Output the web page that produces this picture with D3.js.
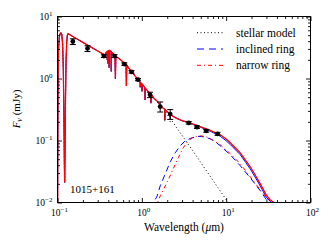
<!DOCTYPE html>
<html><head><meta charset="utf-8">
<script src="https://cdn.jsdelivr.net/npm/d3@7"></script>
<style>
html,body{margin:0;padding:0;background:#fff;}
text{font-family:"Liberation Serif","Times New Roman",serif;fill:#000;}
</style></head>
<body><svg id="c" width="330" height="250"></svg>
<script>
// ---------- data ----------
const xTickExps = [-1, 0, 1, 2];
const yTickExps = [-2, -1, 0, 1];
const legendLabels = ["stellar model", "inclined ring", "narrow ring"];
const starName = "1015+161";

// photometry (wavelength μm, flux mJy, error mJy)
const photWave = [0.152, 0.227, 0.355, 0.475, 0.62, 0.755, 0.90, 1.25, 1.65, 2.17, 3.6, 4.5, 5.8, 7.9];
const photFlux = [3.95, 3.05, 2.30, 2.30, 1.71, 1.28, 0.96, 0.546, 0.353, 0.267, 0.193, 0.164, 0.143, 0.128];
const photErr  = [0.42, 0.33, 0.12, 0.12, 0.08, 0.06, 0.04, 0.055, 0.065, 0.048, 0.009, 0.008, 0.007, 0.007];

// stellar model [wavelength, flux]
const stellarModel = [
 [0.1000,0.004],[0.1006,0.03],[0.1012,0.3],[0.1020,1.5],[0.1032,3.2],[0.1050,4.6],[0.1075,5.3],
 [0.1100,5.45],[0.1125,5.1],[0.1150,3.6],[0.1172,1.4],[0.1192,0.25],[0.1207,0.04],[0.1216,0.021],
 [0.1226,0.05],[0.1242,0.4],[0.1262,1.8],[0.1285,3.8],[0.1310,5.0],[0.1335,5.28],[0.1400,5.1],
 [0.150,4.8],[0.175,4.25],[0.200,3.82],[0.250,3.20],[0.300,2.78],[0.340,2.52],[0.358,2.44],
 [0.3646,2.2],[0.3700,2.45],[0.3760,2.6],[0.3820,2.68],[0.3870,2.72],[0.3889,2.0],[0.3905,2.74],
 [0.3950,2.76],[0.3970,1.75],[0.3990,2.78],[0.4080,2.82],[0.4102,1.49],[0.4125,2.83],[0.4200,2.82],
 [0.4310,2.72],[0.4340,1.30],[0.4370,2.68],[0.4500,2.58],[0.4800,2.33],[0.4861,0.99],[0.4920,2.29],
 [0.550,2.04],[0.600,1.85],[0.650,1.67],[0.6563,0.76],[0.663,1.64],[0.700,1.47],
 [0.800,1.17],[0.8204,1.12],[0.900,0.97],[0.9546,0.87],[0.958,0.72],[0.962,0.86],
 [1.000,0.82],[1.005,0.62],[1.010,0.81],[1.088,0.71],[1.094,0.45],[1.100,0.70],
 [1.20,0.61],[1.274,0.56],[1.282,0.40],[1.290,0.555],[1.31,0.545],[1.40,0.47],[1.50,0.43],[1.65,0.365],
 [1.80,0.315],[1.866,0.305],[1.875,0.20],[1.884,0.30],[2.00,0.262],[2.158,0.228],[2.166,0.20],
 [2.174,0.226],[2.377,0.191],[2.6,0.16],[3.0,0.121],[3.5,0.089],[4.0,0.069],[4.5,0.0545],
 [5.0,0.044],[6.0,0.0307],[7.0,0.0226],[8.0,0.0173],[9.0,0.0137],[10.0,0.0111],[11.0,0.0092],[12.0,0.0077]
];

// star + ring totals beyond 1.31 μm
const narrowTotalIR = [
 [1.40,0.475],[1.50,0.44],[1.65,0.375],[1.80,0.33],[1.866,0.32],[1.875,0.215],[1.884,0.318],
 [2.0,0.29],[2.158,0.266],[2.166,0.235],[2.174,0.263],[2.377,0.243],[2.6,0.228],[3.0,0.21],
 [3.5,0.198],[4.0,0.186],[4.5,0.175],[5.0,0.166],[5.6,0.157],[6.48,0.146],[7.5,0.133],
 [8.51,0.1235],[10,0.106],[11.19,0.0918],[13,0.075],[14.7,0.0633],[17,0.048],[19.3,0.0377],
 [22,0.028],[25.4,0.020],[29.9,0.0133],[33,0.0112],[36.7,0.0100],[40,0.0088]
];
const inclinedTotalIR = [
 [1.40,0.475],[1.50,0.44],[1.65,0.375],[1.80,0.33],[1.866,0.32],[1.875,0.215],[1.884,0.318],
 [2.0,0.29],[2.158,0.266],[2.166,0.235],[2.174,0.263],[2.377,0.243],[2.6,0.227],[3.0,0.208],
 [3.5,0.195],[4.0,0.183],[4.5,0.172],[5.0,0.163],[5.6,0.153],[6.48,0.141],[7.5,0.128],
 [8.51,0.117],[10,0.099],[11.19,0.086],[13,0.070],[14.7,0.059],[17,0.0445],[19.3,0.0348],
 [22,0.0258],[25.4,0.0184],[29.9,0.0122],[34.3,0.0100],[38,0.0085]
];

// dust ring emission alone
const inclinedRing = [
 [1.30,0.008],[1.377,0.0100],[1.523,0.0128],[1.653,0.0186],[1.895,0.029],[2.173,0.0453],[2.49,0.0633],
 [2.855,0.0822],[3.27,0.0989],[3.75,0.108],[4.54,0.117],[5.35,0.115],[6.48,0.1065],[7.43,0.0953],
 [8.51,0.0822],[11.19,0.0588],[14.7,0.0391],[19.3,0.025],[25.4,0.0155],[31.6,0.0100],[34,0.0088]
];
const narrowRing = [
 [1.45,0.008],[1.536,0.0100],[1.653,0.0128],[1.794,0.016],[2.057,0.0232],[2.358,0.035],[2.703,0.0526],
 [3.10,0.0762],[3.55,0.0989],[4.07,0.1127],[4.93,0.119],[5.81,0.115],[6.84,0.1026],[8.51,0.0853],
 [11.19,0.0613],[14.7,0.0421],[19.3,0.026],[25.4,0.016],[33.4,0.0100],[36,0.0088]
];

// ---------- drawing ----------
const L = 57.5, R = 310.5, T = 16.5, B = 202.5;
const svg = d3.select("#c");
const x = d3.scaleLog().domain([0.1, 100]).range([L, R]);
const y = d3.scaleLog().domain([0.01, 10]).range([B, T]);

svg.append("defs").append("clipPath").attr("id", "clip")
  .append("rect").attr("x", L).attr("y", T).attr("width", R - L).attr("height", B - T);

const plot = svg.append("g").attr("clip-path", "url(#clip)");
const line = d3.line().x(d => x(d[0])).y(d => y(d[1]));

const uvOpt = stellarModel.filter(d => d[0] <= 1.31);
const inclinedTotal = uvOpt.concat(inclinedTotalIR);
const narrowTotal = uvOpt.concat(narrowTotalIR);

plot.append("path").datum(stellarModel).attr("d", line)
  .attr("fill", "none").attr("stroke", "#000").attr("stroke-width", 1).attr("stroke-dasharray", "1,2.5");
plot.append("path").datum(inclinedTotal).attr("d", line)
  .attr("fill", "none").attr("stroke", "#0000ff").attr("stroke-width", 1);
plot.append("path").datum(narrowTotal).attr("d", line)
  .attr("fill", "none").attr("stroke", "#ff0000").attr("stroke-width", 1.3);
plot.append("path").datum(inclinedRing).attr("d", line)
  .attr("fill", "none").attr("stroke", "#0000ff").attr("stroke-width", 1).attr("stroke-dasharray", "6,4");
plot.append("path").datum(narrowRing).attr("d", line)
  .attr("fill", "none").attr("stroke", "#ff0000").attr("stroke-width", 1).attr("stroke-dasharray", "4,3,1,3");

// photometry
const phot = photWave.map((w, i) => ({w, f: photFlux[i], e: photErr[i]}));
const pg = svg.append("g");
phot.forEach(p => {
  const cx = x(p.w), y1 = y(p.f + p.e), y0 = y(p.f - p.e);
  pg.append("line").attr("x1", cx).attr("x2", cx).attr("y1", y0).attr("y2", y1).attr("stroke", "#000").attr("stroke-width", 1);
  pg.append("line").attr("x1", cx - 3).attr("x2", cx + 3).attr("y1", y0).attr("y2", y0).attr("stroke", "#000").attr("stroke-width", 1);
  pg.append("line").attr("x1", cx - 3).attr("x2", cx + 3).attr("y1", y1).attr("y2", y1).attr("stroke", "#000").attr("stroke-width", 1);
  pg.append("circle").attr("cx", cx).attr("cy", y(p.f)).attr("r", 2.4).attr("fill", "#000");
});

// axes with inward ticks
function minorVals(dom) {
  const out = [];
  for (let e = Math.round(Math.log10(dom[0])); e < Math.round(Math.log10(dom[1])); e++)
    for (let k = 2; k <= 9; k++) out.push(k * Math.pow(10, e));
  return out;
}
const xMaj = xTickExps.map(e => Math.pow(10, e));
const yMaj = yTickExps.map(e => Math.pow(10, e));
const ax = svg.append("g");
function addAxis(gen, vals, size, tr) {
  const g = ax.append("g").attr("transform", tr)
    .call(gen.tickValues(vals).tickSizeInner(-size).tickSizeOuter(0).tickFormat(""));
  g.select(".domain").remove();
  g.selectAll("line").attr("stroke", "#000").attr("stroke-width", 0.9);
}
addAxis(d3.axisBottom(x), xMaj, 4.5, `translate(0,${B})`);
addAxis(d3.axisBottom(x), minorVals(x.domain()), 2.5, `translate(0,${B})`);
addAxis(d3.axisTop(x), xMaj, 4.5, `translate(0,${T})`);
addAxis(d3.axisTop(x), minorVals(x.domain()), 2.5, `translate(0,${T})`);
addAxis(d3.axisLeft(y), yMaj, 4.5, `translate(${L},0)`);
addAxis(d3.axisLeft(y), minorVals(y.domain()), 2.5, `translate(${L},0)`);
addAxis(d3.axisRight(y), yMaj, 4.5, `translate(${R},0)`);
addAxis(d3.axisRight(y), minorVals(y.domain()), 2.5, `translate(${R},0)`);

svg.append("rect").attr("x", L).attr("y", T).attr("width", R - L).attr("height", B - T)
  .attr("fill", "none").attr("stroke", "#000").attr("stroke-width", 1);

function expLabel(g, e, px, py, anchor) {
  const t = g.append("text").attr("x", px).attr("y", py).attr("text-anchor", anchor).attr("font-size", 9.5);
  t.append("tspan").text("10");
  t.append("tspan").attr("dy", -4).attr("font-size", 7).text(e < 0 ? "\u2212" + (-e) : String(e));
}
xTickExps.forEach(e => expLabel(svg, e, x(Math.pow(10, e)) + 2, 215.5, "middle"));
yTickExps.forEach(e => expLabel(svg, e, 52.5, y(Math.pow(10, e)) + 3.5, "end"));

// axis titles
const xl = svg.append("text").attr("x", 184).attr("y", 231).attr("text-anchor", "middle").attr("font-size", 11.5);
xl.append("tspan").text("Wavelength (");
xl.append("tspan").attr("font-style", "italic").text("\u03bc");
xl.append("tspan").text("m)");

const yl = svg.append("text").attr("transform", "translate(19.5,109) rotate(-90)").attr("text-anchor", "middle").attr("font-size", 11);
yl.append("tspan").attr("font-style", "italic").text("F");
yl.append("tspan").attr("font-style", "italic").attr("font-size", 8).attr("dy", 2).text("\u03bd");
yl.append("tspan").attr("dy", -2).text(" (mJy)");

svg.append("text").attr("x", 70).attr("y", 193.3).attr("font-size", 11).text(starName);

// legend
const legStyles = [
  {stroke: "#000", dash: "1,2.5"},
  {stroke: "#0000ff", dash: "7,5"},
  {stroke: "#ff0000", dash: "4,3,1,3"}
];
const legY = [32.7, 49, 65.3];
legendLabels.forEach((lab, i) => {
  svg.append("line").attr("x1", 197).attr("x2", 223).attr("y1", legY[i]).attr("y2", legY[i])
    .attr("stroke", legStyles[i].stroke).attr("stroke-width", 1).attr("stroke-dasharray", legStyles[i].dash);
  svg.append("text").attr("x", 236).attr("y", legY[i] + 3.8).attr("font-size", 11.5).text(lab);
});
</script></body></html>
